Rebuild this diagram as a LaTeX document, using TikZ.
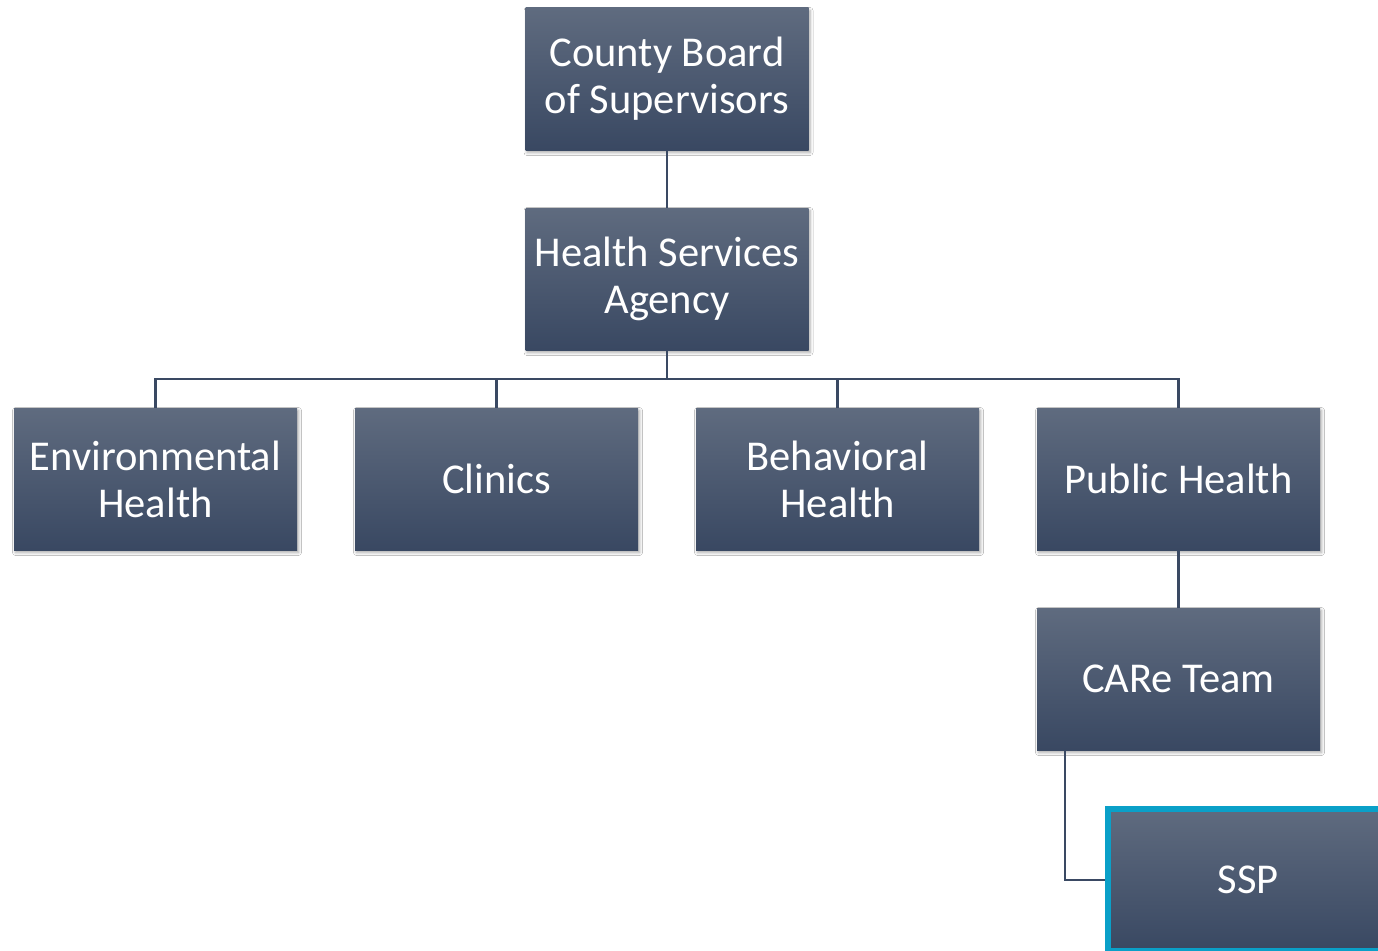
\documentclass[tikz,border=0pt]{standalone}
\usepackage{fontspec}
\setmainfont{Carlito}
\usetikzlibrary{shadows.blur}
\definecolor{boxtop}{HTML}{5F6B7F}
\definecolor{boxbot}{HTML}{394862}
\definecolor{linec}{HTML}{3A4963}
\definecolor{ssprim}{HTML}{0AA0C8}
\tikzset{
  orgbox/.style={rectangle, minimum width=283pt, minimum height=142pt, inner sep=0pt,
    top color=boxtop, bottom color=boxbot, text=white, align=center,
    font=\fontsize{42.5}{47}\selectfont,
    blur shadow={shadow xshift=1.5pt, shadow yshift=-2.5pt, shadow blur radius=3pt, shadow opacity=35}},
  conn/.style={draw=linec, line width=2.5pt}
}
\begin{document}
\begin{tikzpicture}[x=1pt,y=-1pt]
\useasboundingbox (0,0) rectangle (1378,950);
\clip (0,0) rectangle (1378,950);
\fill[white] (0,0) rectangle (1378,950);
\node[orgbox] (cbs) at (667,79) {County Board\\of Supervisors};
\node[orgbox] (hsa) at (667,279) {Health Services\\Agency};
\node[orgbox] (env) at (155.5,479) {Environmental\\Health};
\node[orgbox] (cli) at (496.5,479) {Clinics};
\node[orgbox] (beh) at (837.5,479) {Behavioral\\Health};
\node[orgbox] (pub) at (1178.5,479) {Public Health};
\node[orgbox] (care) at (1178.5,679) {CARe Team};
\node[orgbox, minimum width=280pt, minimum height=142pt, draw=ssprim, line width=6pt] (ssp) at (1248,880) {SSP};
\coordinate (carel) at ([xshift=28pt]care.south west);
\draw[conn] (cbs.south) -- (hsa.north);
\draw[conn] (hsa.south) -- ++(0,29) -| (env.north);
\draw[conn] (hsa.south) -- ++(0,29) -| (cli.north);
\draw[conn] (hsa.south) -- ++(0,29) -| (beh.north);
\draw[conn] (hsa.south) -- ++(0,29) -| (pub.north);
\draw[conn] (pub.south) -- (care.north);
\draw[conn] (carel) |- (ssp.west);
\end{tikzpicture}
\end{document}
